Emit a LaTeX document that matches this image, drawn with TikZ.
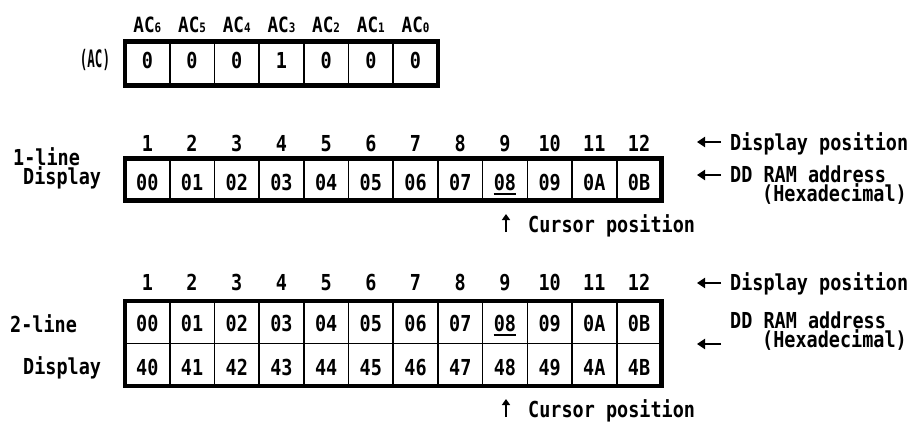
\documentclass[tikz,border=0pt]{standalone}
\usepackage{fontspec}
\newfontfamily\mf[FakeStretch=0.84]{DejaVu Sans Mono}
\usetikzlibrary{arrows.meta}
\begin{document}
\begin{tikzpicture}[x=1pt,y=-1pt,
  txt/.style={inner sep=0pt,anchor=base,font=\mf\bfseries\fontsize{22}{19}\selectfont},
  lbl/.style={txt,anchor=base west},
  lbltwo/.style={txt,anchor=north west,align=left},
  aclbl/.style={inner sep=0pt,anchor=base,font=\mf\bfseries\fontsize{21}{21}\selectfont},
  thinline/.style={line width=1.6pt},
  thickbox/.style={line width=4.5pt},
  ulline/.style={line width=1.8pt},
  larrow/.style={line width=2.6pt,-{Triangle[length=8pt,width=10pt]}},
  uarrow/.style={line width=2pt,-{Triangle[length=6pt,width=8pt]}}
]
\useasboundingbox (0,0) rectangle (912,421);
\def\cw{44.7}
% ---------------- AC register ----------------
\foreach \i in {1,...,6}
  \draw[thinline] ({125+\i*\cw},41.5) -- ({125+\i*\cw},85.5);
\draw[thickbox] (125,41.5) rectangle ({125+7*\cw},85.5);
\foreach \v [count=\i] in {0,0,0,1,0,0,0}{
  \pgfmathtruncatemacro{\s}{7-\i}
  \node[aclbl] (acl\i) at ({125+(\i-0.5)*\cw},32) {AC{\fontsize{13}{13}\selectfont\s}};
  \node[txt] (acv\i) at ({125+(\i-0.5)*\cw},68) {\v};
}
\node[txt,font=\mf\bfseries\fontsize{24}{24}\selectfont] (ac) at (95,67) {\scalebox{0.62}[1]{(AC)}};
% ---------------- 1-line display ----------------
\foreach \i in {1,...,11}
  \draw[thinline] ({125+\i*\cw},158.5) -- ({125+\i*\cw},200.5);
\draw[thickbox] (125,158.5) rectangle ({125+12*\cw},200.5);
\foreach \i in {1,...,12}
  \node[txt] (pa\i) at ({125+(\i-0.5)*\cw},151) {\i};
\foreach \v [count=\i] in {00,01,02,03,04,05,06,07,08,09,0A,0B}
  \node[txt] (ra\i) at ({125+(\i-0.5)*\cw},190) {\v};
\draw[ulline] ([yshift=-4pt]ra9.base west) -- ([yshift=-4pt]ra9.base east);
\node[lbltwo] (l1) at (13,147) {1-line\\\hspace*{10pt}Display};
\coordinate (dpa1) at (721,142);
\coordinate (dpa2) at (697,142);
\draw[larrow] (dpa1) -- (dpa2);
\node[lbl] (dpt1) at (730,150) {Display position};
\coordinate (dda1) at (721,175);
\coordinate (dda2) at (697,175);
\draw[larrow] (dda1) -- (dda2);
\node[lbltwo] (ddt1) at (730,166) {DD RAM address\\\hspace*{32pt}(Hexadecimal)};
\coordinate (cu1a) at (506,232);
\coordinate (cu1b) at (506,214);
\draw[uarrow] (cu1a) -- (cu1b);
\node[lbl] (cur1) at (528,232) {Cursor position};
% ---------------- 2-line display ----------------
\foreach \i in {1,...,11}
  \draw[thinline] ({125+\i*\cw},301) -- ({125+\i*\cw},386);
\draw[thinline] (125,343.5) -- ({125+12*\cw},343.5);
\draw[thickbox] (125,301) rectangle ({125+12*\cw},386);
\foreach \i in {1,...,12}
  \node[txt] (pb\i) at ({125+(\i-0.5)*\cw},290) {\i};
\foreach \v [count=\i] in {00,01,02,03,04,05,06,07,08,09,0A,0B}
  \node[txt] (rb\i) at ({125+(\i-0.5)*\cw},331) {\v};
\foreach \v [count=\i] in {40,41,42,43,44,45,46,47,48,49,4A,4B}
  \node[txt] (rc\i) at ({125+(\i-0.5)*\cw},375) {\v};
\draw[ulline] ([yshift=-4pt]rb9.base west) -- ([yshift=-4pt]rb9.base east);
\node[lbl] (l2a) at (10,332) {2-line};
\node[lbl] (l2b) at (23,374) {Display};
\coordinate (dpb1) at (721,283);
\coordinate (dpb2) at (697,283);
\draw[larrow] (dpb1) -- (dpb2);
\node[lbl] (dpt2) at (730,290) {Display position};
\coordinate (ddb1) at (721,344);
\coordinate (ddb2) at (697,344);
\draw[larrow] (ddb1) -- (ddb2);
\node[lbltwo] (ddt2) at (730,312) {DD RAM address\\\hspace*{32pt}(Hexadecimal)};
\coordinate (cu2a) at (506,417);
\coordinate (cu2b) at (506,399);
\draw[uarrow] (cu2a) -- (cu2b);
\node[lbl] (cur2) at (528,417) {Cursor position};
\end{tikzpicture}
\end{document}
